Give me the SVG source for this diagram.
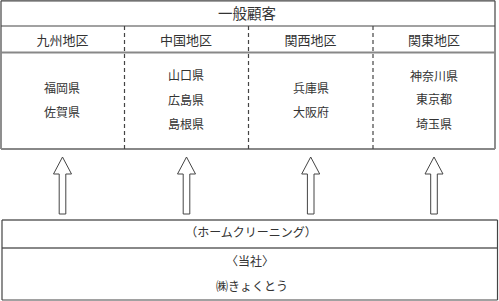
<svg xmlns="http://www.w3.org/2000/svg" width="499" height="301" viewBox="0 0 499 301">
<style>
text{font-family:"Liberation Serif","Noto Sans CJK JP",serif;fill:#333;text-anchor:middle;dominant-baseline:central}
.t{font-size:14.5px}
.h{font-size:13px}
.p{font-size:12px}
.dark{stroke:#444;stroke-width:1.2;fill:none}
.gray{stroke:#888;stroke-width:2;fill:none}
.dash{stroke:#444;stroke-width:1.2;stroke-dasharray:4 3;fill:none}
.arrow{fill:#fff;stroke:#444;stroke-width:1}
</style>
<rect width="499" height="301" fill="#fff"/>
<g id="customers">
<line class="dark" x1="1" y1="0.8" x2="495" y2="0.8"/>
<line class="dark" x1="1" y1="0.8" x2="1" y2="149"/>
<line class="dark" x1="495" y1="0.8" x2="495" y2="149"/>
<line class="dark" x1="1" y1="26" x2="495" y2="26"/>
<line class="gray" x1="1" y1="52.5" x2="495" y2="52.5"/>
<line class="gray" x1="1" y1="149" x2="495" y2="149"/>
<line class="dash" x1="124.5" y1="26" x2="124.5" y2="149"/>
<line class="dash" x1="248.5" y1="26" x2="248.5" y2="149"/>
<line class="dash" x1="373" y1="26" x2="373" y2="149"/>
<text class="t" x="247" y="14">一般顧客</text>
</g>
<g id="kyushu">
<text class="h" x="62.5" y="40">九州地区</text>
<text class="p" x="62" y="89">福岡県</text>
<text class="p" x="62" y="113">佐賀県</text>
</g>
<g id="chugoku">
<text class="h" x="186" y="40">中国地区</text>
<text class="p" x="186" y="76">山口県</text>
<text class="p" x="186" y="100.5">広島県</text>
<text class="p" x="186" y="125">島根県</text>
</g>
<g id="kansai">
<text class="h" x="310.5" y="40">関西地区</text>
<text class="p" x="311" y="89">兵庫県</text>
<text class="p" x="311" y="113">大阪府</text>
</g>
<g id="kanto">
<text class="h" x="434" y="40">関東地区</text>
<text class="p" x="434" y="76.5">神奈川県</text>
<text class="p" x="434" y="100">東京都</text>
<text class="p" x="434" y="125">埼玉県</text>
</g>
<g id="connectors">
<polygon class="arrow" points="62.5,157 71.5,174 65.8,174 65.8,214 59.2,214 59.2,174 53.5,174"/>
<polygon class="arrow" points="186.5,157 195.5,174 189.8,174 189.8,214 183.2,214 183.2,174 177.5,174"/>
<polygon class="arrow" points="310.7,157 319.7,174 314,174 314,214 307.4,214 307.4,174 301.7,174"/>
<polygon class="arrow" points="434,157 443,174 437.3,174 437.3,214 430.7,214 430.7,174 425,174"/>
</g>
<g id="company">
<line class="gray" x1="2" y1="220" x2="497.5" y2="220"/>
<line class="gray" x1="2" y1="248" x2="497.5" y2="248"/>
<line class="dark" x1="2" y1="220" x2="2" y2="300"/>
<line class="dark" x1="497.5" y1="220" x2="497.5" y2="300"/>
<line class="dark" x1="2" y1="300" x2="497.5" y2="300"/>
<text class="p" x="251" y="233">（ホームクリーニング）</text>
<text class="p" x="250" y="262">〈当社〉</text>
<text class="p" x="252" y="287">㈱きょくとう</text>
</g>
</svg>
